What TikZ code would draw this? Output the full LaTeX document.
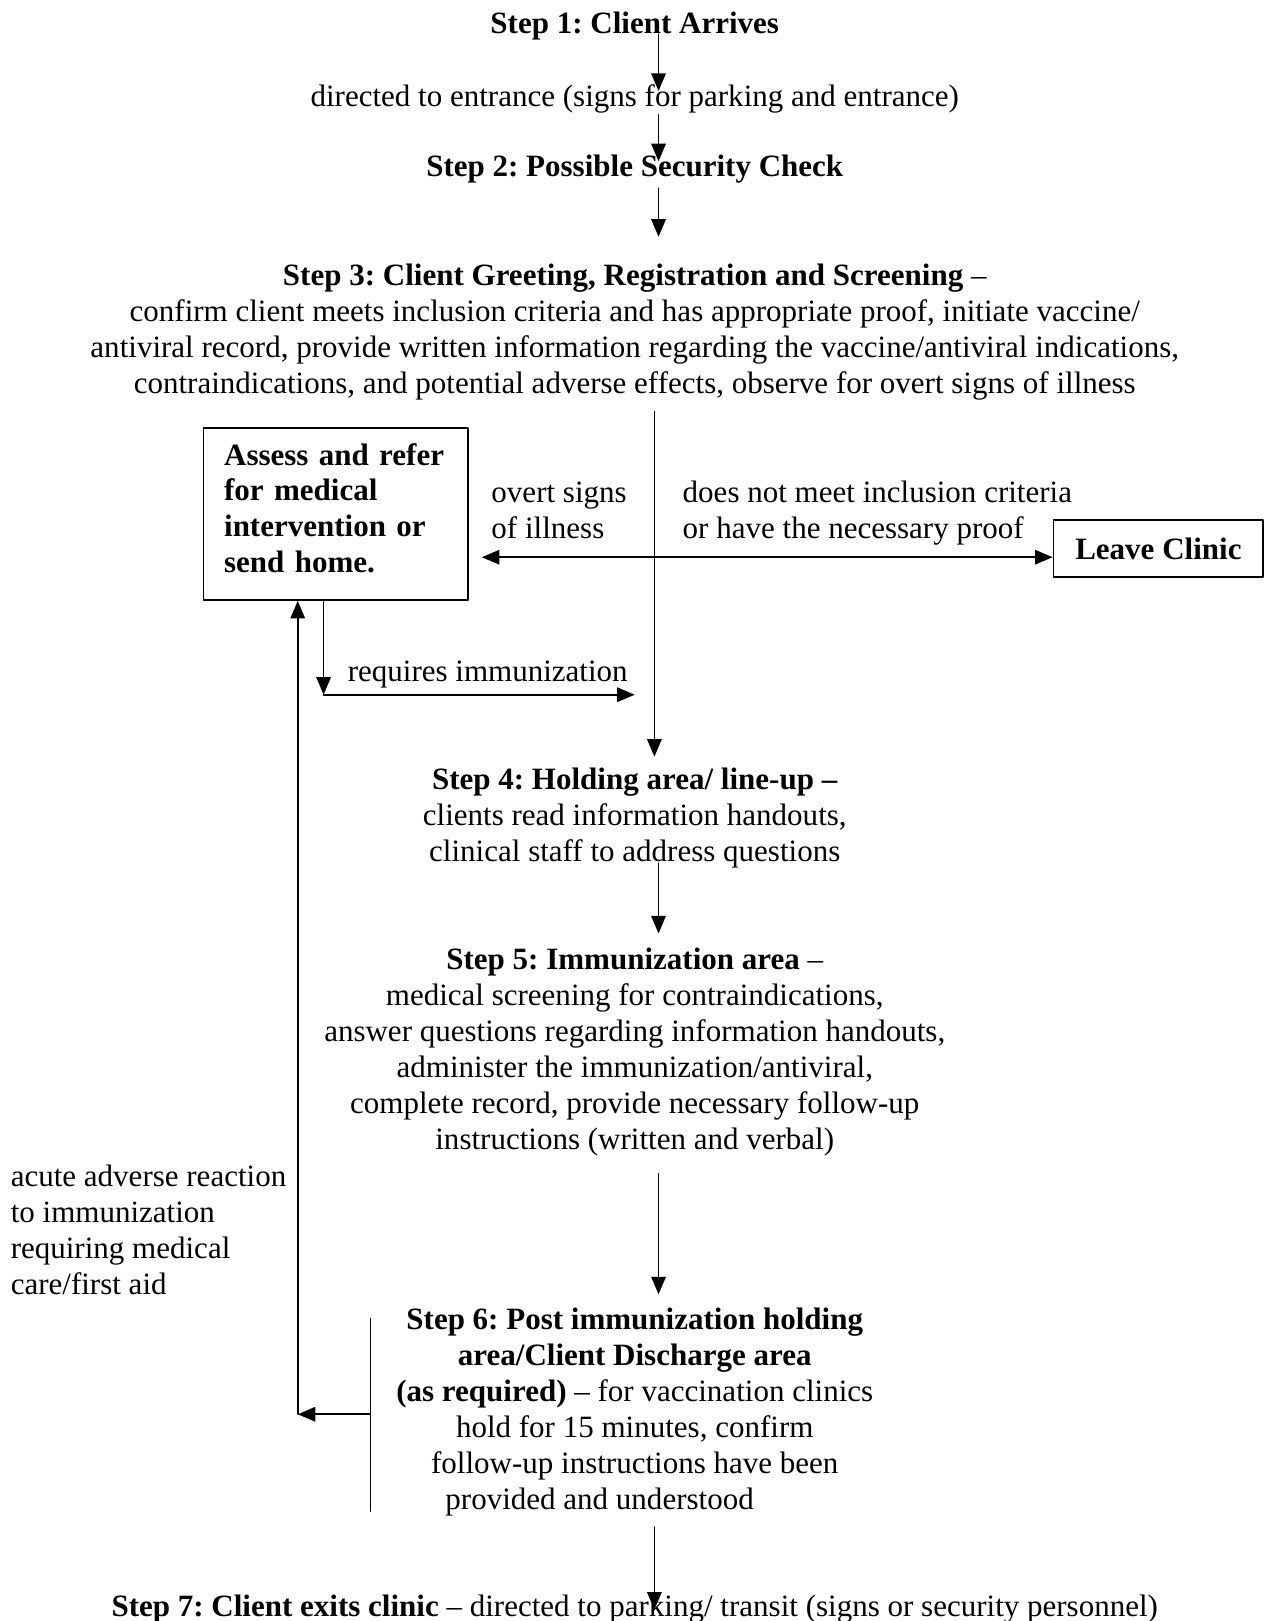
\documentclass[tikz,border=0pt]{standalone}
\usepackage{fontspec}
\setmainfont{Liberation Serif}
\frenchspacing
\usetikzlibrary{arrows.meta, calc, positioning}

\tikzset{
  txt/.style={font=\fontsize{15pt}{17.4pt}\selectfont, inner sep=0pt, anchor=base},
  steptxt/.style={txt, align=center},
  sidetxt/.style={txt, align=left, anchor=base west},
  boxed/.style={draw, line width=0.8pt, font=\fontsize{15pt}{17.4pt}\selectfont\bfseries},
  flow/.style={->, line width=0.8pt}
}

\begin{document}
\begin{tikzpicture}[line cap=round,line join=round,>={Triangle[length=8.5pt,width=7pt]},x=0.5pt,y=-0.5pt]
\useasboundingbox (0,0) rectangle (1223,1568);

% Steps (multi-line nodes sit on their last line)
\node [steptxt] (step1) at (614,32) {\textbf{Step 1: Client Arrives}};
\node [steptxt] (enter) at (614,103) {directed to entrance (signs for parking and entrance)};
\node [steptxt] (step2) at (614,171) {\textbf{Step 2: Possible Security Check}};
\node [steptxt] (step3) at (614,381) {\textbf{Step 3: Client Greeting, Registration and Screening} --\\
  confirm client meets inclusion criteria and has appropriate proof, initiate vaccine/\\
  antiviral record, provide written information regarding the vaccine/antiviral indications,\\
  contraindications, and potential adverse effects, observe for overt signs of illness};
\node [steptxt] (step4) at (614,833) {\textbf{Step 4: Holding area/ line-up --}\\
  clients read information handouts,\\
  clinical staff to address questions};
\node [steptxt] (step5) at (614,1112) {\textbf{Step 5: Immunization area} --\\
  medical screening for contraindications,\\
  answer questions regarding information handouts,\\
  administer the immunization/antiviral,\\
  complete record, provide necessary follow-up\\
  instructions (written and verbal)};
\node [steptxt] (step6) at (614,1460) {\textbf{Step 6: Post immunization holding}\\
  \textbf{area/Client Discharge area}\\
  \textbf{(as required)} -- for vaccination clinics\\
  hold for 15 minutes, confirm\\
  follow-up instructions have been\\
  provided and understood\hspace*{34pt}};
\node [steptxt] (step7) at (614,1564) {\textbf{Step 7: Client exits clinic} -- directed to parking/ transit (signs or security personnel)};

% Side boxes
\node [boxed, anchor=north west, align=left, text width=108pt, inner xsep=10pt, inner ysep=8pt,
  text height=10pt, text depth=57.3pt] (assess) at (196,413) {Assess and refer\\for medical\\intervention or\\send home.};
\node [boxed, minimum width=101.5pt, minimum height=27.5pt] (leave) at (1120.5,530.7) {Leave Clinic};

% Labels
\node [sidetxt] (overt) at (475,521) {overt signs\\of illness};
\node [sidetxt] (nomeet) at (660,521) {does not meet inclusion criteria\\or have the necessary proof};
\node [sidetxt] (reqimm) at (336,659) {requires immunization};
\node [sidetxt] (acute) at (10,1252) {acute adverse reaction\\to immunization\\requiring medical\\care/first aid};

% Arrow ends
\coordinate (s1) at (637,33);   \coordinate (e1) at (637,88);
\coordinate (s2) at (637,111);  \coordinate (e2) at (637,156);
\coordinate (s3) at (637,182);  \coordinate (e3) at (637,229);
\coordinate (s4) at (633,398);  \coordinate (e4) at (633,732);
\coordinate (s5) at (637,835);  \coordinate (e5) at (637,903);
\coordinate (s6) at (637,1135); \coordinate (e6) at (637,1252);
\coordinate (s7) at (633,1477); \coordinate (e7) at (633,1557);
\coordinate (ill) at (466,539);
\coordinate (rq) at (313,672);
\coordinate (rqe) at (614,672);
\coordinate (back) at (288,1368);
\coordinate (bart) at (358,1275);
\coordinate (barb) at (358,1462);

% Main flow
\foreach \n in {1,...,7}
\draw [flow] (s\n) -- (e\n);

% Branches
\draw [flow, <->] (ill) -- (leave.west |- ill);
\draw [flow] (assess.south -| rq) -- (rq);
\draw [flow] (rq) -- (rqe);
\draw [line width=0.5pt] (bart) -- (barb);
\draw [flow] (bart |- back) -- (back);
\draw [flow] (back) -- (assess.south -| back);
\end{tikzpicture}
\end{document}
